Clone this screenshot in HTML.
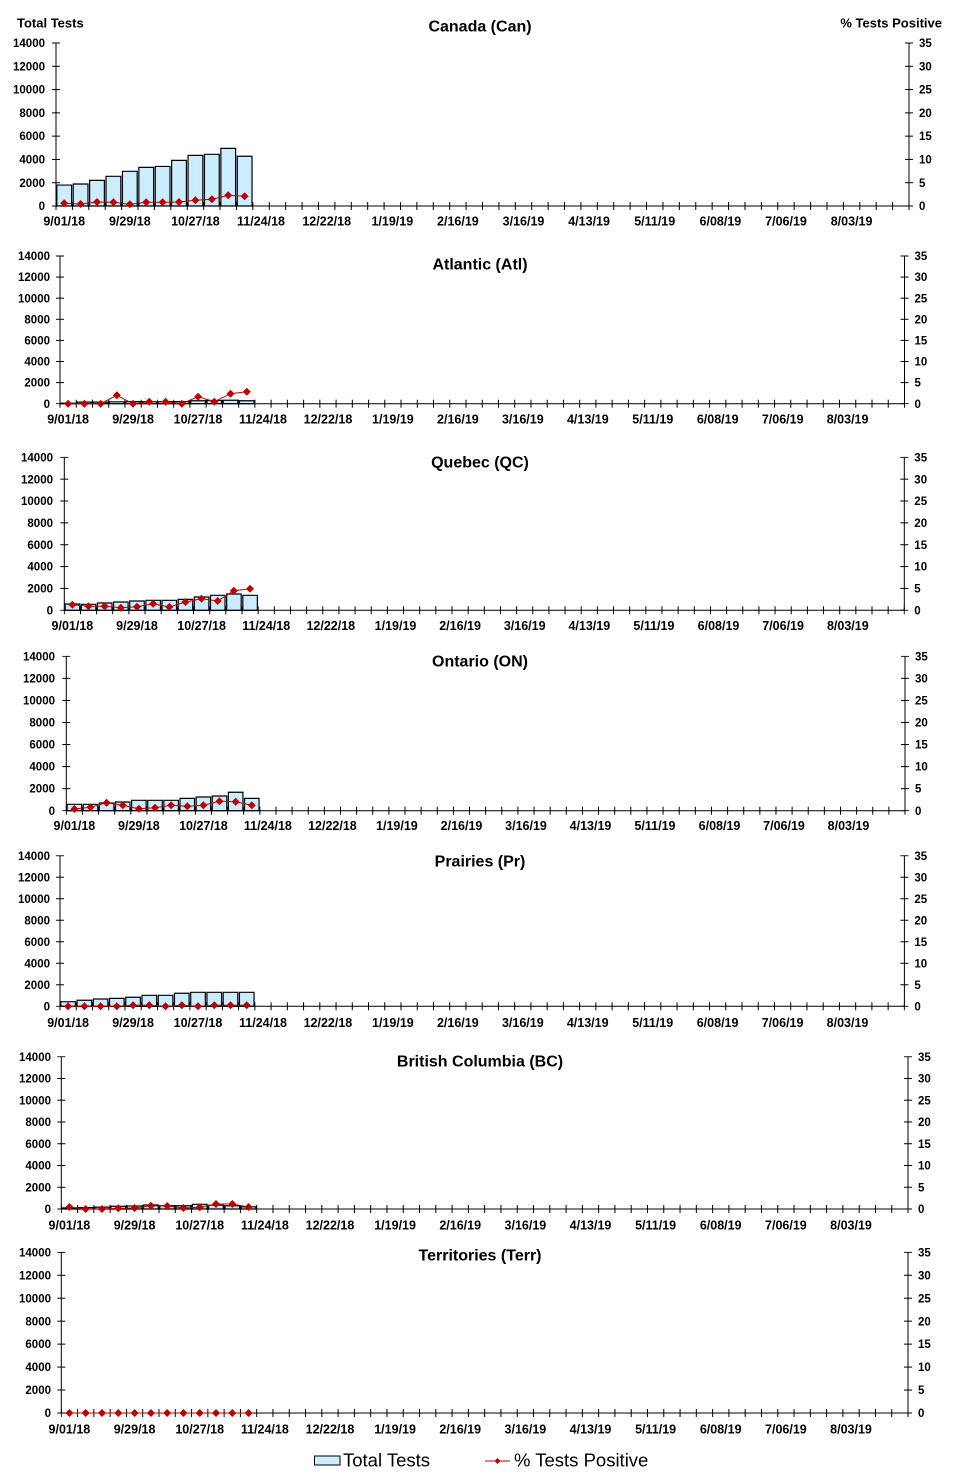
<!DOCTYPE html>
<html><head><meta charset="utf-8"><style>
html,body{margin:0;padding:0;background:#fff;}
svg{display:block;font-family:"Liberation Sans",Arial,sans-serif;}
.t{font-size:16px;font-weight:bold;text-anchor:middle;}
.yl{font-size:11.5px;font-weight:bold;text-anchor:end;}
.yr{font-size:11.5px;font-weight:bold;}
.xl{font-size:12.5px;font-weight:bold;text-anchor:middle;}
.bar rect{fill:#CCECFF;stroke:#000;stroke-width:1.2;vector-effect:non-scaling-stroke;}
.ax{fill:none;stroke:#000;stroke-width:1;}
.ln{fill:none;stroke:#C00000;stroke-width:1;}
</style></head><body>
<svg width="959" height="1477" viewBox="0 0 959 1477" xmlns="http://www.w3.org/2000/svg">
<defs>
<path id="dm" d="M0,-4 L4,0 L0,4 L-4,0Z" fill="#C00000"/>
<pattern id="px1" patternUnits="userSpaceOnUse" x="55.5" y="0" width="16.404" height="2000"><rect width="1" height="2000" fill="#000"/></pattern>
<pattern id="px2" patternUnits="userSpaceOnUse" x="59.5" y="0" width="16.24" height="2000"><rect width="1" height="2000" fill="#000"/></pattern>
<pattern id="px3" patternUnits="userSpaceOnUse" x="63.8" y="0" width="16.154" height="2000"><rect width="1" height="2000" fill="#000"/></pattern>
<pattern id="px4" patternUnits="userSpaceOnUse" x="65.8" y="0" width="16.129" height="2000"><rect width="1" height="2000" fill="#000"/></pattern>
<pattern id="px5" patternUnits="userSpaceOnUse" x="59.5" y="0" width="16.238" height="2000"><rect width="1" height="2000" fill="#000"/></pattern>
<pattern id="px6" patternUnits="userSpaceOnUse" x="60.8" y="0" width="16.283" height="2000"><rect width="1" height="2000" fill="#000"/></pattern>
<pattern id="py1" patternUnits="userSpaceOnUse" x="0" y="42.5" width="2000" height="23.286"><rect width="2000" height="1" fill="#000"/></pattern>
<pattern id="py2" patternUnits="userSpaceOnUse" x="0" y="255.5" width="2000" height="21.1"><rect width="2000" height="1" fill="#000"/></pattern>
<pattern id="py3" patternUnits="userSpaceOnUse" x="0" y="456.8" width="2000" height="21.857"><rect width="2000" height="1" fill="#000"/></pattern>
<pattern id="py4" patternUnits="userSpaceOnUse" x="0" y="655.8" width="2000" height="22.057"><rect width="2000" height="1" fill="#000"/></pattern>
<pattern id="py5" patternUnits="userSpaceOnUse" x="0" y="855.2" width="2000" height="21.514"><rect width="2000" height="1" fill="#000"/></pattern>
<pattern id="py6" patternUnits="userSpaceOnUse" x="0" y="1056.2" width="2000" height="21.757"><rect width="2000" height="1" fill="#000"/></pattern>
<pattern id="py7" patternUnits="userSpaceOnUse" x="0" y="1251.8" width="2000" height="22.957"><rect width="2000" height="1" fill="#000"/></pattern>
</defs>

<!-- Header labels -->
<text x="17" y="27.5" style="font-size:13px;font-weight:bold">Total Tests</text>
<text x="942" y="27.5" style="font-size:13px;font-weight:bold;text-anchor:end">% Tests Positive</text>

<!-- ===== Panel 1 Canada ===== -->
<text class="t" x="480" y="31.5">Canada (Can)</text>
<g class="bar" transform="translate(56,206) scale(16.404,-0.011643)">
<rect x="0.05" y="0" width="0.9" height="1800"/><rect x="1.05" y="0" width="0.9" height="1890"/><rect x="2.05" y="0" width="0.9" height="2200"/><rect x="3.05" y="0" width="0.9" height="2550"/><rect x="4.05" y="0" width="0.9" height="2980"/><rect x="5.05" y="0" width="0.9" height="3320"/><rect x="6.05" y="0" width="0.9" height="3400"/><rect x="7.05" y="0" width="0.9" height="3920"/><rect x="8.05" y="0" width="0.9" height="4350"/><rect x="9.05" y="0" width="0.9" height="4440"/><rect x="10.05" y="0" width="0.9" height="4950"/><rect x="11.05" y="0" width="0.9" height="4270"/>
</g>
<path class="ax" d="M56,43 V206 H909 V43"/>
<rect x="55.5" y="202" width="854" height="8" fill="url(#px1)"/>
<rect x="52" y="42.5" width="8" height="164" fill="url(#py1)"/>
<rect x="905" y="42.5" width="8" height="164" fill="url(#py1)"/>
<text class="yl"><tspan x="45" y="47.1">14000</tspan><tspan x="45" y="70.4">12000</tspan><tspan x="45" y="93.7">10000</tspan><tspan x="45" y="117">8000</tspan><tspan x="45" y="140.2">6000</tspan><tspan x="45" y="163.5">4000</tspan><tspan x="45" y="186.8">2000</tspan><tspan x="45" y="210.1">0</tspan></text>
<text class="yr"><tspan x="919" y="47.1">35</tspan><tspan x="919" y="70.4">30</tspan><tspan x="919" y="93.7">25</tspan><tspan x="919" y="117">20</tspan><tspan x="919" y="140.2">15</tspan><tspan x="919" y="163.5">10</tspan><tspan x="919" y="186.8">5</tspan><tspan x="919" y="210.1">0</tspan></text>
<text class="xl"><tspan x="64.2" y="225.5">9/01/18</tspan><tspan x="129.8" y="225.5">9/29/18</tspan><tspan x="195.4" y="225.5">10/27/18</tspan><tspan x="261" y="225.5">11/24/18</tspan><tspan x="326.7" y="225.5">12/22/18</tspan><tspan x="392.3" y="225.5">1/19/19</tspan><tspan x="457.9" y="225.5">2/16/19</tspan><tspan x="523.5" y="225.5">3/16/19</tspan><tspan x="589.1" y="225.5">4/13/19</tspan><tspan x="654.7" y="225.5">5/11/19</tspan><tspan x="720.4" y="225.5">6/08/19</tspan><tspan x="786" y="225.5">7/06/19</tspan><tspan x="851.6" y="225.5">8/03/19</tspan></text>
<polyline class="ln" points="64.2,203.3 80.6,204 97,202 113.4,202.3 129.8,204.3 146.2,202.3 162.6,202.3 179,202 195.4,200.3 211.8,199.3 228.2,195.3 244.6,196.3"/>
<use href="#dm" x="64.2" y="203.3"/><use href="#dm" x="80.6" y="204"/><use href="#dm" x="97" y="202"/><use href="#dm" x="113.4" y="202.3"/><use href="#dm" x="129.8" y="204.3"/><use href="#dm" x="146.2" y="202.3"/><use href="#dm" x="162.6" y="202.3"/><use href="#dm" x="179" y="202"/><use href="#dm" x="195.4" y="200.3"/><use href="#dm" x="211.8" y="199.3"/><use href="#dm" x="228.2" y="195.3"/><use href="#dm" x="244.6" y="196.3"/>

<!-- ===== Panel 2 Atlantic ===== -->
<text class="t" x="480" y="269.5">Atlantic (Atl)</text>
<g class="bar" transform="translate(60,403.7) scale(16.24,-0.01055)">
<rect x="0.05" y="0" width="0.9" height="50"/><rect x="1.05" y="0" width="0.9" height="150"/><rect x="2.05" y="0" width="0.9" height="150"/><rect x="3.05" y="0" width="0.9" height="180"/><rect x="4.05" y="0" width="0.9" height="200"/><rect x="5.05" y="0" width="0.9" height="200"/><rect x="6.05" y="0" width="0.9" height="200"/><rect x="7.05" y="0" width="0.9" height="200"/><rect x="8.05" y="0" width="0.9" height="280"/><rect x="9.05" y="0" width="0.9" height="300"/><rect x="10.05" y="0" width="0.9" height="330"/><rect x="11.05" y="0" width="0.9" height="280"/>
</g>
<path class="ax" d="M60,256 V403.7 H904.5 V256"/>
<rect x="59.5" y="399.7" width="845.5" height="8" fill="url(#px2)"/>
<rect x="56" y="255.5" width="8" height="148.7" fill="url(#py2)"/>
<rect x="900.5" y="255.5" width="8" height="148.7" fill="url(#py2)"/>
<text class="yl"><tspan x="50" y="260.1">14000</tspan><tspan x="50" y="281.2">12000</tspan><tspan x="50" y="302.3">10000</tspan><tspan x="50" y="323.4">8000</tspan><tspan x="50" y="344.5">6000</tspan><tspan x="50" y="365.6">4000</tspan><tspan x="50" y="386.7">2000</tspan><tspan x="50" y="407.8">0</tspan></text>
<text class="yr"><tspan x="914.5" y="260.1">35</tspan><tspan x="914.5" y="281.2">30</tspan><tspan x="914.5" y="302.3">25</tspan><tspan x="914.5" y="323.4">20</tspan><tspan x="914.5" y="344.5">15</tspan><tspan x="914.5" y="365.6">10</tspan><tspan x="914.5" y="386.7">5</tspan><tspan x="914.5" y="407.8">0</tspan></text>
<text class="xl"><tspan x="68.1" y="423.5">9/01/18</tspan><tspan x="133.1" y="423.5">9/29/18</tspan><tspan x="198" y="423.5">10/27/18</tspan><tspan x="263" y="423.5">11/24/18</tspan><tspan x="328" y="423.5">12/22/18</tspan><tspan x="392.9" y="423.5">1/19/19</tspan><tspan x="457.9" y="423.5">2/16/19</tspan><tspan x="522.8" y="423.5">3/16/19</tspan><tspan x="587.8" y="423.5">4/13/19</tspan><tspan x="652.8" y="423.5">5/11/19</tspan><tspan x="717.7" y="423.5">6/08/19</tspan><tspan x="782.7" y="423.5">7/06/19</tspan><tspan x="847.6" y="423.5">8/03/19</tspan></text>
<polyline class="ln" points="68.1,403.7 84.4,403.7 100.6,403.7 116.8,395.3 133.1,403.7 149.3,401.7 165.6,401.7 181.8,403.7 198.1,396.7 214.3,401.7 230.5,393.7 246.8,391.7"/>
<use href="#dm" x="68.1" y="403.7"/><use href="#dm" x="84.4" y="403.7"/><use href="#dm" x="100.6" y="403.7"/><use href="#dm" x="116.8" y="395.3"/><use href="#dm" x="133.1" y="403.7"/><use href="#dm" x="149.3" y="401.7"/><use href="#dm" x="165.6" y="401.7"/><use href="#dm" x="181.8" y="403.7"/><use href="#dm" x="198.1" y="396.7"/><use href="#dm" x="214.3" y="401.7"/><use href="#dm" x="230.5" y="393.7"/><use href="#dm" x="246.8" y="391.7"/>

<!-- ===== Panel 3 Quebec ===== -->
<text class="t" x="480" y="467.5">Quebec (QC)</text>
<g class="bar" transform="translate(64.3,610.3) scale(16.154,-0.010929)">
<rect x="0.05" y="0" width="0.9" height="578"/><rect x="1.05" y="0" width="0.9" height="550"/><rect x="2.05" y="0" width="0.9" height="670"/><rect x="3.05" y="0" width="0.9" height="760"/><rect x="4.05" y="0" width="0.9" height="850"/><rect x="5.05" y="0" width="0.9" height="915"/><rect x="6.05" y="0" width="0.9" height="915"/><rect x="7.05" y="0" width="0.9" height="1000"/><rect x="8.05" y="0" width="0.9" height="1220"/><rect x="9.05" y="0" width="0.9" height="1370"/><rect x="10.05" y="0" width="0.9" height="1490"/><rect x="11.05" y="0" width="0.9" height="1370"/>
</g>
<path class="ax" d="M64.3,457.3 V610.3 H904.3 V457.3"/>
<rect x="63.8" y="606.3" width="841" height="8" fill="url(#px3)"/>
<rect x="60.3" y="456.8" width="8" height="154" fill="url(#py3)"/>
<rect x="900.3" y="456.8" width="8" height="154" fill="url(#py3)"/>
<text class="yl"><tspan x="53" y="461.4">14000</tspan><tspan x="53" y="483.3">12000</tspan><tspan x="53" y="505.1">10000</tspan><tspan x="53" y="527">8000</tspan><tspan x="53" y="548.8">6000</tspan><tspan x="53" y="570.7">4000</tspan><tspan x="53" y="592.5">2000</tspan><tspan x="53" y="614.4">0</tspan></text>
<text class="yr"><tspan x="914.3" y="461.4">35</tspan><tspan x="914.3" y="483.3">30</tspan><tspan x="914.3" y="505.1">25</tspan><tspan x="914.3" y="527">20</tspan><tspan x="914.3" y="548.8">15</tspan><tspan x="914.3" y="570.7">10</tspan><tspan x="914.3" y="592.5">5</tspan><tspan x="914.3" y="614.4">0</tspan></text>
<text class="xl"><tspan x="72.4" y="630">9/01/18</tspan><tspan x="137" y="630">9/29/18</tspan><tspan x="201.6" y="630">10/27/18</tspan><tspan x="266.2" y="630">11/24/18</tspan><tspan x="330.8" y="630">12/22/18</tspan><tspan x="395.5" y="630">1/19/19</tspan><tspan x="460.1" y="630">2/16/19</tspan><tspan x="524.7" y="630">3/16/19</tspan><tspan x="589.3" y="630">4/13/19</tspan><tspan x="653.9" y="630">5/11/19</tspan><tspan x="718.5" y="630">6/08/19</tspan><tspan x="783.1" y="630">7/06/19</tspan><tspan x="847.8" y="630">8/03/19</tspan></text>
<polyline class="ln" points="72.4,604.7 88.5,606.3 104.7,606.3 120.8,607.7 137,606.7 153.1,603.7 169.3,607 185.4,602 201.5,598.7 217.7,601 233.8,590.7 250,588.7"/>
<use href="#dm" x="72.4" y="604.7"/><use href="#dm" x="88.5" y="606.3"/><use href="#dm" x="104.7" y="606.3"/><use href="#dm" x="120.8" y="607.7"/><use href="#dm" x="137" y="606.7"/><use href="#dm" x="153.1" y="603.7"/><use href="#dm" x="169.3" y="607"/><use href="#dm" x="185.4" y="602"/><use href="#dm" x="201.5" y="598.7"/><use href="#dm" x="217.7" y="601"/><use href="#dm" x="233.8" y="590.7"/><use href="#dm" x="250" y="588.7"/>

<!-- ===== Panel 4 Ontario ===== -->
<text class="t" x="480" y="666.5">Ontario (ON)</text>
<g class="bar" transform="translate(66.3,810.7) scale(16.129,-0.011029)">
<rect x="0.05" y="0" width="0.9" height="580"/><rect x="1.05" y="0" width="0.9" height="580"/><rect x="2.05" y="0" width="0.9" height="700"/><rect x="3.05" y="0" width="0.9" height="790"/><rect x="4.05" y="0" width="0.9" height="940"/><rect x="5.05" y="0" width="0.9" height="940"/><rect x="6.05" y="0" width="0.9" height="940"/><rect x="7.05" y="0" width="0.9" height="1120"/><rect x="8.05" y="0" width="0.9" height="1240"/><rect x="9.05" y="0" width="0.9" height="1330"/><rect x="10.05" y="0" width="0.9" height="1670"/><rect x="11.05" y="0" width="0.9" height="1120"/>
</g>
<path class="ax" d="M66.3,656.3 V810.7 H905 V656.3"/>
<rect x="65.8" y="806.7" width="839.7" height="8" fill="url(#px4)"/>
<rect x="62.3" y="655.8" width="8" height="155.4" fill="url(#py4)"/>
<rect x="901" y="655.8" width="8" height="155.4" fill="url(#py4)"/>
<text class="yl"><tspan x="55" y="660.4">14000</tspan><tspan x="55" y="682.5">12000</tspan><tspan x="55" y="704.5">10000</tspan><tspan x="55" y="726.6">8000</tspan><tspan x="55" y="748.6">6000</tspan><tspan x="55" y="770.7">4000</tspan><tspan x="55" y="792.7">2000</tspan><tspan x="55" y="814.8">0</tspan></text>
<text class="yr"><tspan x="915" y="660.4">35</tspan><tspan x="915" y="682.5">30</tspan><tspan x="915" y="704.5">25</tspan><tspan x="915" y="726.6">20</tspan><tspan x="915" y="748.6">15</tspan><tspan x="915" y="770.7">10</tspan><tspan x="915" y="792.7">5</tspan><tspan x="915" y="814.8">0</tspan></text>
<text class="xl"><tspan x="74.4" y="830">9/01/18</tspan><tspan x="138.9" y="830">9/29/18</tspan><tspan x="203.4" y="830">10/27/18</tspan><tspan x="267.9" y="830">11/24/18</tspan><tspan x="332.4" y="830">12/22/18</tspan><tspan x="396.9" y="830">1/19/19</tspan><tspan x="461.5" y="830">2/16/19</tspan><tspan x="526" y="830">3/16/19</tspan><tspan x="590.5" y="830">4/13/19</tspan><tspan x="655" y="830">5/11/19</tspan><tspan x="719.5" y="830">6/08/19</tspan><tspan x="784" y="830">7/06/19</tspan><tspan x="848.5" y="830">8/03/19</tspan></text>
<polyline class="ln" points="74.4,809 90.5,807.3 106.6,802.7 122.8,805.3 138.9,808.7 155,807.7 171.1,805.3 187.3,806.3 203.4,805.3 219.5,801.3 235.7,801.7 251.8,805.3"/>
<use href="#dm" x="74.4" y="809"/><use href="#dm" x="90.5" y="807.3"/><use href="#dm" x="106.6" y="802.7"/><use href="#dm" x="122.8" y="805.3"/><use href="#dm" x="138.9" y="808.7"/><use href="#dm" x="155" y="807.7"/><use href="#dm" x="171.1" y="805.3"/><use href="#dm" x="187.3" y="806.3"/><use href="#dm" x="203.4" y="805.3"/><use href="#dm" x="219.5" y="801.3"/><use href="#dm" x="235.7" y="801.7"/><use href="#dm" x="251.8" y="805.3"/>

<!-- ===== Panel 5 Prairies ===== -->
<text class="t" x="480" y="866.5">Prairies (Pr)</text>
<g class="bar" transform="translate(60,1006.3) scale(16.238,-0.010757)">
<rect x="0.05" y="0" width="0.9" height="430"/><rect x="1.05" y="0" width="0.9" height="560"/><rect x="2.05" y="0" width="0.9" height="680"/><rect x="3.05" y="0" width="0.9" height="740"/><rect x="4.05" y="0" width="0.9" height="840"/><rect x="5.05" y="0" width="0.9" height="1020"/><rect x="6.05" y="0" width="0.9" height="1020"/><rect x="7.05" y="0" width="0.9" height="1210"/><rect x="8.05" y="0" width="0.9" height="1300"/><rect x="9.05" y="0" width="0.9" height="1300"/><rect x="10.05" y="0" width="0.9" height="1300"/><rect x="11.05" y="0" width="0.9" height="1300"/>
</g>
<path class="ax" d="M60,855.7 V1006.3 H904.4 V855.7"/>
<rect x="59.5" y="1002.3" width="845.4" height="8" fill="url(#px5)"/>
<rect x="56" y="855.2" width="8" height="151.6" fill="url(#py5)"/>
<rect x="900.4" y="855.2" width="8" height="151.6" fill="url(#py5)"/>
<text class="yl"><tspan x="50" y="859.8">14000</tspan><tspan x="50" y="881.3">12000</tspan><tspan x="50" y="902.8">10000</tspan><tspan x="50" y="924.3">8000</tspan><tspan x="50" y="945.9">6000</tspan><tspan x="50" y="967.4">4000</tspan><tspan x="50" y="988.9">2000</tspan><tspan x="50" y="1010.4">0</tspan></text>
<text class="yr"><tspan x="914.4" y="859.8">35</tspan><tspan x="914.4" y="881.3">30</tspan><tspan x="914.4" y="902.8">25</tspan><tspan x="914.4" y="924.3">20</tspan><tspan x="914.4" y="945.9">15</tspan><tspan x="914.4" y="967.4">10</tspan><tspan x="914.4" y="988.9">5</tspan><tspan x="914.4" y="1010.4">0</tspan></text>
<text class="xl"><tspan x="68.1" y="1026.8">9/01/18</tspan><tspan x="133.1" y="1026.8">9/29/18</tspan><tspan x="198" y="1026.8">10/27/18</tspan><tspan x="263" y="1026.8">11/24/18</tspan><tspan x="327.9" y="1026.8">12/22/18</tspan><tspan x="392.9" y="1026.8">1/19/19</tspan><tspan x="457.8" y="1026.8">2/16/19</tspan><tspan x="522.8" y="1026.8">3/16/19</tspan><tspan x="587.7" y="1026.8">4/13/19</tspan><tspan x="652.7" y="1026.8">5/11/19</tspan><tspan x="717.6" y="1026.8">6/08/19</tspan><tspan x="782.6" y="1026.8">7/06/19</tspan><tspan x="847.5" y="1026.8">8/03/19</tspan></text>
<polyline class="ln" points="68.1,1006.3 84.4,1006.3 100.6,1006.3 116.8,1006.3 133.1,1005.3 149.3,1005.3 165.5,1006.3 181.8,1005.3 198,1006.3 214.3,1005.3 230.5,1005.3 246.7,1005.3"/>
<use href="#dm" x="68.1" y="1006.3"/><use href="#dm" x="84.4" y="1006.3"/><use href="#dm" x="100.6" y="1006.3"/><use href="#dm" x="116.8" y="1006.3"/><use href="#dm" x="133.1" y="1005.3"/><use href="#dm" x="149.3" y="1005.3"/><use href="#dm" x="165.5" y="1006.3"/><use href="#dm" x="181.8" y="1005.3"/><use href="#dm" x="198" y="1006.3"/><use href="#dm" x="214.3" y="1005.3"/><use href="#dm" x="230.5" y="1005.3"/><use href="#dm" x="246.7" y="1005.3"/>

<!-- ===== Panel 6 British Columbia ===== -->
<text class="t" x="480" y="1066.5">British Columbia (BC)</text>
<g class="bar" transform="translate(61.3,1209) scale(16.283,-0.010879)">
<rect x="0.05" y="0" width="0.9" height="100"/><rect x="1.05" y="0" width="0.9" height="130"/><rect x="2.05" y="0" width="0.9" height="170"/><rect x="3.05" y="0" width="0.9" height="250"/><rect x="4.05" y="0" width="0.9" height="280"/><rect x="5.05" y="0" width="0.9" height="370"/><rect x="6.05" y="0" width="0.9" height="300"/><rect x="7.05" y="0" width="0.9" height="300"/><rect x="8.05" y="0" width="0.9" height="430"/><rect x="9.05" y="0" width="0.9" height="350"/><rect x="10.05" y="0" width="0.9" height="300"/><rect x="11.05" y="0" width="0.9" height="200"/>
</g>
<path class="ax" d="M61.3,1056.7 V1209 H908 V1056.7"/>
<rect x="60.8" y="1205" width="847.7" height="8" fill="url(#px6)"/>
<rect x="57.3" y="1056.2" width="8" height="153.3" fill="url(#py6)"/>
<rect x="904" y="1056.2" width="8" height="153.3" fill="url(#py6)"/>
<text class="yl"><tspan x="51" y="1060.8">14000</tspan><tspan x="51" y="1082.6">12000</tspan><tspan x="51" y="1104.3">10000</tspan><tspan x="51" y="1126.1">8000</tspan><tspan x="51" y="1147.8">6000</tspan><tspan x="51" y="1169.6">4000</tspan><tspan x="51" y="1191.3">2000</tspan><tspan x="51" y="1213.1">0</tspan></text>
<text class="yr"><tspan x="918" y="1060.8">35</tspan><tspan x="918" y="1082.6">30</tspan><tspan x="918" y="1104.3">25</tspan><tspan x="918" y="1126.1">20</tspan><tspan x="918" y="1147.8">15</tspan><tspan x="918" y="1169.6">10</tspan><tspan x="918" y="1191.3">5</tspan><tspan x="918" y="1213.1">0</tspan></text>
<text class="xl"><tspan x="69.4" y="1229.5">9/01/18</tspan><tspan x="134.6" y="1229.5">9/29/18</tspan><tspan x="199.7" y="1229.5">10/27/18</tspan><tspan x="264.8" y="1229.5">11/24/18</tspan><tspan x="330" y="1229.5">12/22/18</tspan><tspan x="395.1" y="1229.5">1/19/19</tspan><tspan x="460.2" y="1229.5">2/16/19</tspan><tspan x="525.4" y="1229.5">3/16/19</tspan><tspan x="590.5" y="1229.5">4/13/19</tspan><tspan x="655.6" y="1229.5">5/11/19</tspan><tspan x="720.7" y="1229.5">6/08/19</tspan><tspan x="785.9" y="1229.5">7/06/19</tspan><tspan x="851" y="1229.5">8/03/19</tspan></text>
<polyline class="ln" points="69.4,1207 85.7,1209 102,1209 118.3,1208.3 134.6,1208 150.9,1205.7 167.2,1206 183.4,1208 199.7,1207.3 216,1204 232.3,1204 248.6,1207"/>
<use href="#dm" x="69.4" y="1207"/><use href="#dm" x="85.7" y="1209"/><use href="#dm" x="102" y="1209"/><use href="#dm" x="118.3" y="1208.3"/><use href="#dm" x="134.6" y="1208"/><use href="#dm" x="150.9" y="1205.7"/><use href="#dm" x="167.2" y="1206"/><use href="#dm" x="183.4" y="1208"/><use href="#dm" x="199.7" y="1207.3"/><use href="#dm" x="216" y="1204"/><use href="#dm" x="232.3" y="1204"/><use href="#dm" x="248.6" y="1207"/>

<!-- ===== Panel 7 Territories ===== -->
<text class="t" x="480" y="1260.5">Territories (Terr)</text>
<path class="ax" d="M61.3,1252.3 V1413 H908 V1252.3"/>
<rect x="60.8" y="1409" width="847.7" height="8" fill="url(#px6)"/>
<rect x="57.3" y="1251.8" width="8" height="161.7" fill="url(#py7)"/>
<rect x="904" y="1251.8" width="8" height="161.7" fill="url(#py7)"/>
<text class="yl"><tspan x="51" y="1256.4">14000</tspan><tspan x="51" y="1279.4">12000</tspan><tspan x="51" y="1302.3">10000</tspan><tspan x="51" y="1325.3">8000</tspan><tspan x="51" y="1348.2">6000</tspan><tspan x="51" y="1371.2">4000</tspan><tspan x="51" y="1394.1">2000</tspan><tspan x="51" y="1417.1">0</tspan></text>
<text class="yr"><tspan x="918" y="1256.4">35</tspan><tspan x="918" y="1279.4">30</tspan><tspan x="918" y="1302.3">25</tspan><tspan x="918" y="1325.3">20</tspan><tspan x="918" y="1348.2">15</tspan><tspan x="918" y="1371.2">10</tspan><tspan x="918" y="1394.1">5</tspan><tspan x="918" y="1417.1">0</tspan></text>
<text class="xl"><tspan x="69.4" y="1433.5">9/01/18</tspan><tspan x="134.6" y="1433.5">9/29/18</tspan><tspan x="199.7" y="1433.5">10/27/18</tspan><tspan x="264.8" y="1433.5">11/24/18</tspan><tspan x="330" y="1433.5">12/22/18</tspan><tspan x="395.1" y="1433.5">1/19/19</tspan><tspan x="460.2" y="1433.5">2/16/19</tspan><tspan x="525.4" y="1433.5">3/16/19</tspan><tspan x="590.5" y="1433.5">4/13/19</tspan><tspan x="655.6" y="1433.5">5/11/19</tspan><tspan x="720.7" y="1433.5">6/08/19</tspan><tspan x="785.9" y="1433.5">7/06/19</tspan><tspan x="851" y="1433.5">8/03/19</tspan></text>
<polyline class="ln" points="69.4,1413 248.6,1413"/>
<use href="#dm" x="69.4" y="1413"/><use href="#dm" x="85.7" y="1413"/><use href="#dm" x="102" y="1413"/><use href="#dm" x="118.3" y="1413"/><use href="#dm" x="134.6" y="1413"/><use href="#dm" x="150.9" y="1413"/><use href="#dm" x="167.2" y="1413"/><use href="#dm" x="183.4" y="1413"/><use href="#dm" x="199.7" y="1413"/><use href="#dm" x="216" y="1413"/><use href="#dm" x="232.3" y="1413"/><use href="#dm" x="248.6" y="1413"/>

<!-- ===== Legend ===== -->
<rect x="314.5" y="1456" width="25.5" height="9" fill="#CCECFF" stroke="#000" stroke-width="1"/>
<text x="343" y="1466.7" style="font-size:18.5px">Total Tests</text>
<line x1="485" y1="1461" x2="510" y2="1461" stroke="#C00000" stroke-width="1"/>
<path d="M497.5,1458 L500.5,1461 L497.5,1464 L494.5,1461Z" fill="#C00000"/>
<text x="514" y="1466.7" style="font-size:18.5px">% Tests Positive</text>
</svg>
</body></html>
